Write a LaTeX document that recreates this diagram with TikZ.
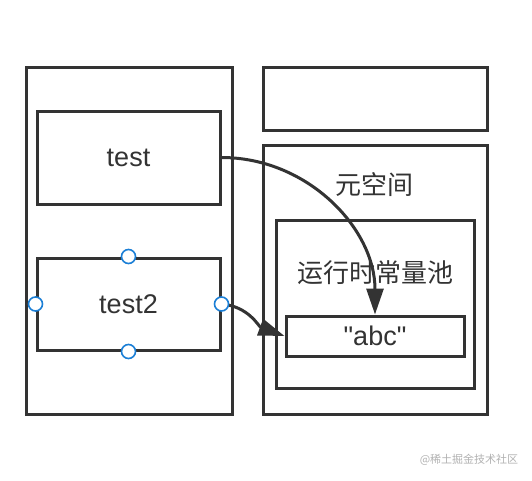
\documentclass[tikz,border=0pt]{standalone}
\usepackage{fontspec}
\setmainfont{Liberation Sans}
\newfontfamily\cjk{Noto Sans CJK SC}
\usetikzlibrary{positioning,arrows.meta}
\definecolor{ink}{HTML}{333333}
\definecolor{handleblue}{HTML}{1B7FD6}

\begin{document}
\begin{tikzpicture}[x=1pt, y=-1pt,
  box/.style={draw=ink, line width=3pt, inner sep=0pt, text=ink,
              font=\fontsize{27}{30}\selectfont},
  lbl/.style={text=ink, inner sep=0pt, font=\cjk\fontsize{26}{30}\selectfont},
  handle/.style={draw=handleblue, circle, fill=white, line width=1.6pt,
                 minimum size=14pt, inner sep=0pt},
  arr/.style={draw=ink, line width=3pt, -{Triangle[length=26pt, width=17pt]}}]
\fill[white] (0,0) rectangle (532,480);
\useasboundingbox (0,0) rectangle (532,480);
% stack frame
\node[box, minimum width=206pt, minimum height=347pt] (stack) at (129,240.5) {};
\node[box, minimum width=183pt, minimum height=93pt] (test) at (128.5,157.5) {test};
\node[box, minimum width=183pt, minimum height=92pt] (test2) at (128.5,304) {test2};
% heap side
\node[box, minimum width=224pt, minimum height=63pt] (heap) at (375,98.5) {};
\node[box, minimum width=224pt, minimum height=269pt] (meta) at (375,279.5) {};
\node[lbl] (metalbl) at (374,185) {元空间};
\node[box, minimum width=198pt, minimum height=168pt] (pool) at (375,304) {};
\node[lbl] (poollbl) at (375,273) {运行时常量池};
\node[box, minimum width=178pt, minimum height=40pt] (abc) at (375,336) {\textquotedbl abc\textquotedbl};
% references
\draw[arr] (test.east) to[out=0, in=90] (abc.north);
\draw[arr] (test2.east) to[out=-5, in=160] (abc.west);
% selection handles
\node[handle] (hn) at (test2.north) {};
\node[handle] (hs) at (test2.south) {};
\node[handle] (hw) at (test2.west) {};
\node[handle] (he) at (test2.east) {};
\node[text=black!30, inner sep=0pt, font=\cjk\fontsize{11}{13}\selectfont] (mark) at (469,460) {@稀土掘金技术社区};
\end{tikzpicture}
\end{document}
